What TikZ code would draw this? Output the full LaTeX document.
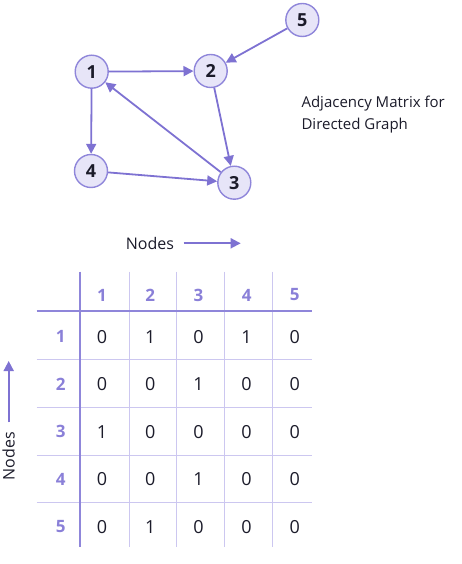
\documentclass[tikz,border=0pt]{standalone}
\usepackage{fontspec}
\setmainfont{Open Sans}
\usetikzlibrary{arrows.meta}
\definecolor{edgepurple}{HTML}{7E72D2}
\definecolor{nodefill}{HTML}{E7E5F8}
\definecolor{nodeline}{HTML}{8F86DA}
\definecolor{headpurple}{HTML}{8A80D8}
\definecolor{gridline}{HTML}{CCC7F0}
\definecolor{inkdark}{HTML}{1B1B2A}
\tikzset{
  vertex/.style={circle,draw=nodeline,fill=nodefill,line width=1.4pt,minimum size=33pt,inner sep=0pt,font=\fontsize{18}{20}\selectfont\bfseries,text=inkdark},
  edge/.style={edgepurple,line width=1.8pt,-{Triangle[length=10pt,width=10pt]}},
  headnum/.style={font=\fontsize{17}{19}\selectfont\bfseries,text=headpurple},
  cellnum/.style={font=\fontsize{18}{20}\selectfont,text=inkdark}
}
\begin{document}
\begin{tikzpicture}[x=10pt,y=10pt]
\useasboundingbox (0,0) rectangle (46.2,-56.4);
% graph
\node [vertex] (n1) at (9.17,-7.17) {1};
\node [vertex] (n2) at (21.07,-7.1) {2};
\node [vertex] (n5) at (30.23,-2.0) {5};
\node [vertex] (n4) at (9.1,-17.1) {4};
\node [vertex] (n3) at (23.43,-18.27) {3};
\draw [edge] (n1) -- (n2);
\draw [edge] (n5) -- (n2);
\draw [edge] (n2) -- (n3);
\draw [edge] (n3) -- (n1);
\draw [edge] (n1) -- (n4);
\draw [edge] (n4) -- (n3);
\node [anchor=west,align=left,font=\fontsize{15}{22}\selectfont,text=inkdark] (title) at (29.8,-11.5) {Adjacency Matrix for\\Directed Graph};
% axis labels
\node [font=\fontsize{16}{18}\selectfont,text=inkdark] (colsname) at (15.0,-24.33) {Nodes};
\coordinate (colsend) at (24.07,-24.33);
\draw [edge] (colsname.east) ++(0.6,0) -- (colsend);
\node [rotate=90,font=\fontsize{16}{18}\selectfont,text=inkdark] (rowsname) at (0.87,-45.6) {Nodes};
\coordinate (rowsend) at (0.87,-36.1);
\draw [edge] (rowsname.east) ++(0,0.6) -- (rowsend);
% grid
\foreach \y in {-35.93,-40.73,-45.5,-50.27}
  \draw [gridline,line width=1pt] (3.67,\y) -- (31.17,\y);
\foreach \x in {12.93,17.67,22.43,27.27}
  \draw [gridline,line width=1pt] (\x,-27.17) -- (\x,-54.67);
\draw [nodeline,line width=1.6pt] (3.67,-31.1) -- (31.17,-31.1);
\draw [nodeline,line width=1.6pt] (8.0,-27.17) -- (8.0,-54.67);
% headers and entries
\foreach \i in {1,...,5} {
  \node [headnum] (h\i) at ({10.2+4.82*(\i-1)},-29.5) {\i};
  \node [headnum] (r\i) at (6.07,{-33.67-4.75*(\i-1)}) {\i};
}
\foreach \row [count=\j] in {{0,1,0,1,0},{0,0,1,0,0},{1,0,0,0,0},{0,0,1,0,0},{0,1,0,0,0}}
  \foreach \v [count=\i] in \row
    \node [cellnum] (c\j\i) at ({10.2+4.82*(\i-1)},{-33.67-4.75*(\j-1)}) {\v};
\end{tikzpicture}
\end{document}
